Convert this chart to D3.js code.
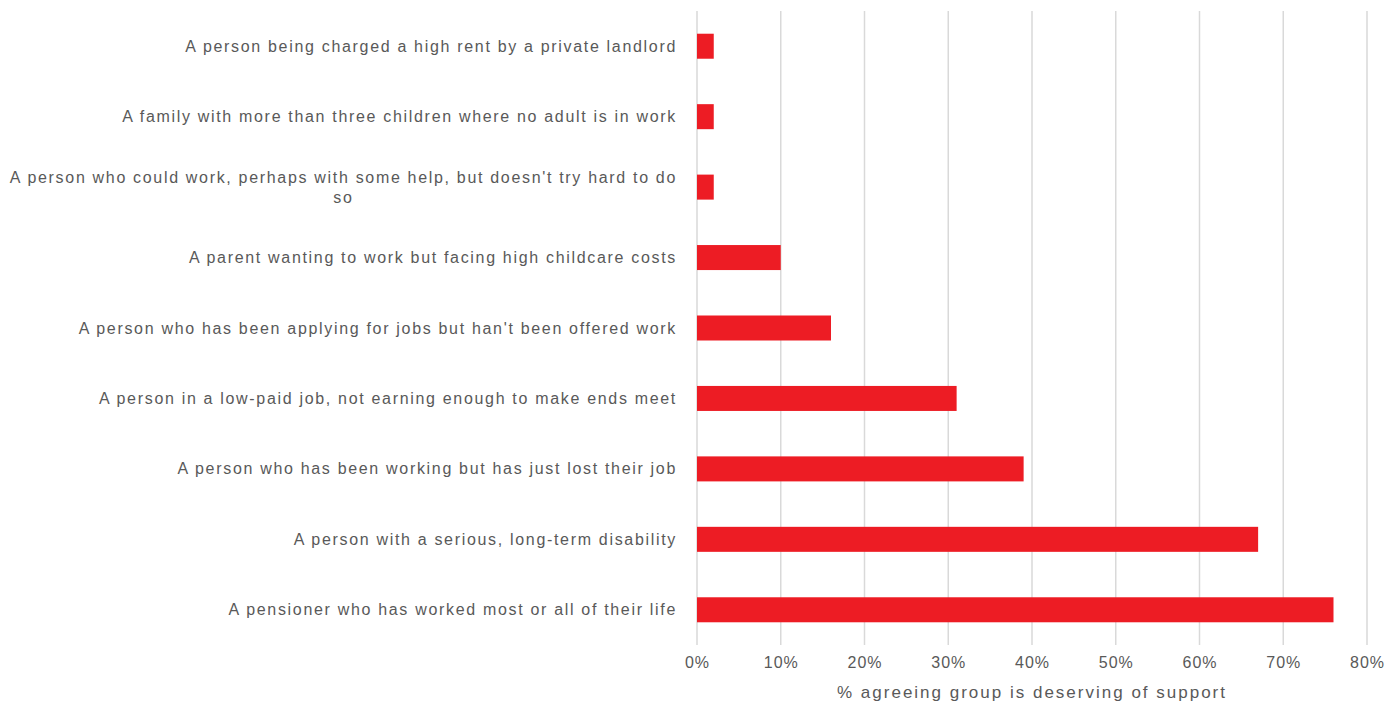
<!DOCTYPE html>
<html><head><meta charset="utf-8">
<script src="https://cdn.jsdelivr.net/npm/d3@7"></script>
<style>body{margin:0;background:#fff}svg{display:block}</style>
</head><body>
<svg id="c" width="1387" height="701"></svg>
<script>
const categories = [
  "A person being charged a high rent by a private landlord",
  "A family with more than three children where no adult is in work",
  "A person who could work, perhaps with some help, but doesn't try hard to do so",
  "A parent wanting to work but facing high childcare costs",
  "A person who has been applying for jobs but han't been offered work",
  "A person in a low-paid job, not earning enough to make ends meet",
  "A person who has been working but has just lost their job",
  "A person with a serious, long-term disability",
  "A pensioner who has worked most or all of their life"
];
const values = [2, 2, 2, 10, 16, 31, 39, 67, 76];
const tickValues = [0, 10, 20, 30, 40, 50, 60, 70, 80];
const axisTitle = "% agreeing group is deserving of support";

const svg = d3.select("#c");
const m = {left: 697, right: 20, top: 11, bottom: 56};
const W = 1387, H = 701;
const x = d3.scaleLinear().domain([0, 80]).range([m.left, W - m.right]);
const y = d3.scaleBand().domain(categories).range([m.top, H - m.bottom]).paddingInner(0.645).paddingOuter(0.3225);
const font = "'Liberation Sans', Arial, sans-serif";
const txt = "#595959";
const ls = "1.68px";

// gridlines
svg.append("g").selectAll("line").data(tickValues).join("line")
  .attr("x1", d => x(d)).attr("x2", d => x(d))
  .attr("y1", m.top).attr("y2", H - m.bottom)
  .attr("stroke", "#d9d9d9").attr("stroke-width", 1.5);

// bars
svg.append("g").selectAll("rect").data(values).join("rect")
  .attr("x", x(0)).attr("y", (d, i) => y(categories[i]))
  .attr("width", d => x(d) - x(0)).attr("height", y.bandwidth())
  .attr("fill", "#ED1C24");

// x axis
const xAxis = d3.axisBottom(x).tickValues(tickValues).tickFormat(d => d + "%").tickSize(0).tickPadding(12);
const gx = svg.append("g").attr("transform", `translate(0,${H - m.bottom})`).call(xAxis);
gx.select(".domain").remove();
gx.selectAll("text").attr("fill", txt).style("font-family", font).style("font-size", "16px").style("letter-spacing", "1px");

// category labels
const maxW = 672;
const labelG = svg.append("g");
function styleText(s) { return s.style("font-family", font).style("font-size", "16px").style("letter-spacing", ls); }
categories.forEach((c, i) => {
  const cy = y(c) + y.bandwidth() / 2;
  const t = styleText(labelG.append("text").attr("fill", txt));
  const words = c.split(" ");
  let lines = [], cur = "";
  const probe = styleText(labelG.append("text"));
  words.forEach(w => {
    const test = cur ? cur + " " + w : w;
    probe.text(test);
    if (probe.node().getComputedTextLength() > maxW && cur) { lines.push(cur); cur = w; }
    else cur = test;
  });
  lines.push(cur);
  const lh = 20;
  if (lines.length === 1) {
    t.attr("x", m.left - 20).attr("y", cy).attr("dy", "0.35em").attr("text-anchor", "end").text(lines[0]);
  } else {
    let wmax = 0;
    lines.forEach(l => { probe.text(l); wmax = Math.max(wmax, probe.node().getComputedTextLength()); });
    const cx = m.left - 20 - wmax / 2;
    lines.forEach((l, k) => {
      t.append("tspan").attr("x", cx).attr("text-anchor", "middle")
        .attr("y", cy + (k - (lines.length - 1) / 2) * lh).attr("dy", "0.35em").text(l);
    });
  }
  probe.remove();
});

// axis title
svg.append("text").attr("x", (x(0) + x(80)) / 2).attr("y", 692).attr("dy", "0.35em")
  .attr("text-anchor", "middle").attr("fill", txt).style("font-family", font)
  .style("font-size", "17px").style("letter-spacing", "2px").text(axisTitle);
</script>
</body></html>
